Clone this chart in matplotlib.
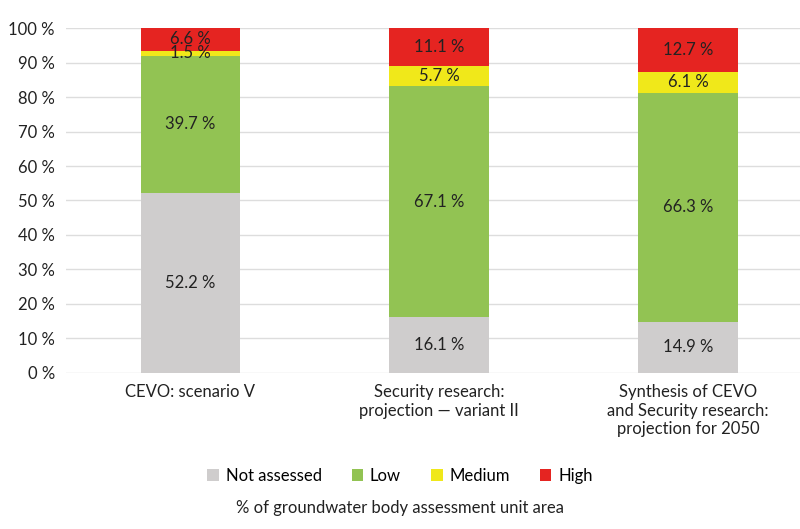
import matplotlib.pyplot as plt
import numpy as np

categories = ["CEVO: scenario V", "Security research:\nprojection — variant II",
              "Synthesis of CEVO\nand Security research:\nprojection for 2050"]
series = ["Not assessed", "Low", "Medium", "High"]
not_assessed = [52.2, 16.1, 14.9]
low = [39.7, 67.1, 66.3]
medium = [1.5, 5.7, 6.1]
high = [6.6, 11.1, 12.7]
colors = ["#cfcdcd", "#92c353", "#f0e81a", "#e52421"]

plt.rcParams['font.family'] = ['Lato', 'DejaVu Sans']
fig = plt.figure(figsize=(8, 5.29), dpi=100)
ax = fig.add_axes([0.0825, 0.295, 0.9175, 0.652])

x = np.arange(len(categories))
bottom = np.zeros(len(categories))
for name, vals, c in zip(series, [not_assessed, low, medium, high], colors):
    vals = np.array(vals)
    ax.bar(x, vals, 0.4, bottom=bottom, color=c, label=name, zorder=2)
    for xi, b, v in zip(x, bottom, vals):
        ax.text(xi, b + v / 2, f"{v:.1f} %", ha='center', va='center',
                fontsize=12, color='#222222', zorder=3)
    bottom += vals

ax.set_ylim(0, 100)
ax.set_xlim(-0.5, 2.45)
ax.set_yticks(range(0, 101, 10))
ax.set_yticklabels([f"{v} %" for v in range(0, 101, 10)], fontsize=12, color='#222222')
ax.set_xticks(x)
ax.set_xticklabels(categories, fontsize=12, color='#222222', va='top')
ax.tick_params(length=0, pad=8)
ax.grid(axis='y', color='#dddddd', lw=1, zorder=0)
for s in ax.spines.values():
    s.set_visible(False)

fig.legend(loc='center', bbox_to_anchor=(0.5, 0.1), ncol=4, frameon=False, fontsize=12,
           handlelength=0.7, handleheight=0.7, handletextpad=0.4, columnspacing=1.8)
fig.text(0.5, 0.04, "% of groundwater body assessment unit area", ha='center', va='center',
         fontsize=12, color='#222222')
fig.savefig("out.png", dpi=100)
